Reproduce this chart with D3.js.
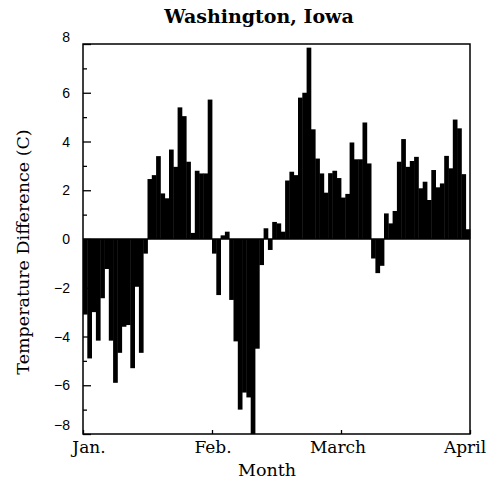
<!DOCTYPE html>
<html>
<head>
<meta charset="utf-8">
<script src="https://cdn.jsdelivr.net/npm/d3@7"></script>
<style>
  body { margin: 0; background: #fff; }
  svg { display: block; }
</style>
</head>
<body>
<svg id="chart" width="492" height="485"></svg>
<script>
// Daily temperature differences (C), Jan 1 .. Mar 31 (day index 0..89)
const janValues = [-3.1, -4.9, -3.0, -4.17, -2.43, -1.23, -4.17, -5.9, -4.67, -3.6,
                   -3.53, -5.3, -1.96, -4.67, -0.6,
                   2.46, 2.62, 3.4, 1.87, 1.67, 3.67, 2.96, 5.4, 5.04, 3.17,
                   0.25, 2.8, 2.69, 2.69, 5.72];
const febValues = [-0.6, -2.3, 0.15, 0.3, -2.5, -4.2, -7.0, -6.3, -6.5, -8.0,
                   -4.5, -1.07, 0.44, -0.45, 0.7, 0.64, 0.3, 2.4, 2.76, 2.62,
                   5.8, 6.0, 7.85, 4.5, 3.3, 2.69, 1.9, 2.7, 2.8, 2.5];
const marValues = [1.7, 1.85, 3.96, 3.27, 3.27, 4.78, 3.1, -0.8, -1.4, -1.1,
                   1.05, 0.64, 1.15, 3.17, 4.1, 2.96, 3.2, 3.37, 2.08, 2.35,
                   1.6, 2.83, 2.12, 2.28, 3.41, 2.9, 4.9, 4.54, 2.66, 0.4];
const values = janValues.concat(febValues, marValues);

const monthTicks = [0, 30, 60, 90];
const monthLabels = ["Jan.", "Feb.", "March", "April"];
const yTicks = [-8, -6, -4, -2, 0, 2, 4, 6, 8];
const yMinorTicks = [-7, -5, -3, -1, 1, 3, 5, 7];

(function () {
const svg = d3.select("#chart");
const pL = 83, pR = 470, pT = 44, pB = 434;

const x = d3.scaleLinear().domain([0, 90]).range([pL, pR]);
const y = d3.scaleLinear().domain([-8, 8]).range([pB, pT]);

// bars
svg.append("g")
  .selectAll("rect")
  .data(values)
  .join("rect")
  .attr("x", (d, i) => x(i))
  .attr("width", (d, i) => x(i + 1) - x(i) + 0.4)
  .attr("y", d => y(Math.max(0, d)))
  .attr("height", d => Math.abs(y(d) - y(0)))
  .attr("fill", "#000");

// zero line
svg.append("line")
  .attr("x1", pL).attr("x2", pR)
  .attr("y1", y(0)).attr("y2", y(0))
  .attr("stroke", "#000").attr("stroke-width", 1.5);

// frame
svg.append("rect")
  .attr("x", pL).attr("y", pT)
  .attr("width", pR - pL).attr("height", pB - pT)
  .attr("fill", "none").attr("stroke", "#000").attr("stroke-width", 1.5);

// y axis (ticks inside)
const yAxis = d3.axisRight(y).tickValues(yTicks).tickSize(8).tickFormat("");
const gy = svg.append("g").attr("transform", `translate(${pL},0)`).call(yAxis);
gy.select(".domain").remove();
gy.selectAll("line").attr("stroke-width", 1.3);
const yAxisMinor = d3.axisRight(y).tickValues(yMinorTicks).tickSize(4).tickFormat("");
const gym = svg.append("g").attr("transform", `translate(${pL},0)`).call(yAxisMinor);
gym.select(".domain").remove();
gym.selectAll("line").attr("stroke-width", 1.3);

// y tick labels
svg.append("g")
  .selectAll("text")
  .data(yTicks)
  .join("text")
  .attr("x", 70)
  .attr("y", d => y(d) + (d === 8 ? -2 : d === -8 ? -4 : 5))
  .attr("text-anchor", "end")
  .attr("font-family", "Liberation Sans, Arial, sans-serif")
  .attr("font-size", 14)
  .attr("fill", "#000")
  .text(d => d < 0 ? "\u2212" + Math.abs(d) : d);

// x axis ticks (inside, pointing up)
const xAxis = d3.axisTop(x).tickValues(monthTicks).tickSize(4).tickFormat("");
const gx = svg.append("g").attr("transform", `translate(0,${pB})`).call(xAxis);
gx.select(".domain").remove();
gx.selectAll("line").attr("stroke-width", 1.3);

// x tick labels
svg.append("g")
  .selectAll("text")
  .data(monthTicks)
  .join("text")
  .attr("x", (d, i) => x(d) + (i === 0 ? 6 : i === 3 ? -5 : i === 2 ? -3 : 1))
  .attr("y", 453)
  .attr("text-anchor", "middle")
  .attr("font-family", "DejaVu Serif, serif")
  .attr("font-size", 17)
  .attr("fill", "#000")
  .text((d, i) => monthLabels[i]);

// axis titles
svg.append("text")
  .attr("x", 267).attr("y", 476)
  .attr("text-anchor", "middle")
  .attr("font-family", "DejaVu Serif, serif")
  .attr("font-size", 17.5)
  .attr("fill", "#000")
  .text("Month");

svg.append("text")
  .attr("transform", "translate(29,252) rotate(-90)")
  .attr("text-anchor", "middle")
  .attr("font-family", "DejaVu Serif, serif")
  .attr("font-size", 17.5)
  .attr("fill", "#000")
  .text("Temperature Difference (C)");

// title
svg.append("text")
  .attr("x", 259).attr("y", 23)
  .attr("text-anchor", "middle")
  .attr("font-family", "DejaVu Serif, serif")
  .attr("font-size", 19)
  .attr("font-weight", "bold")
  .attr("fill", "#000")
  .text("Washington, Iowa");
})();
</script>
</body>
</html>
